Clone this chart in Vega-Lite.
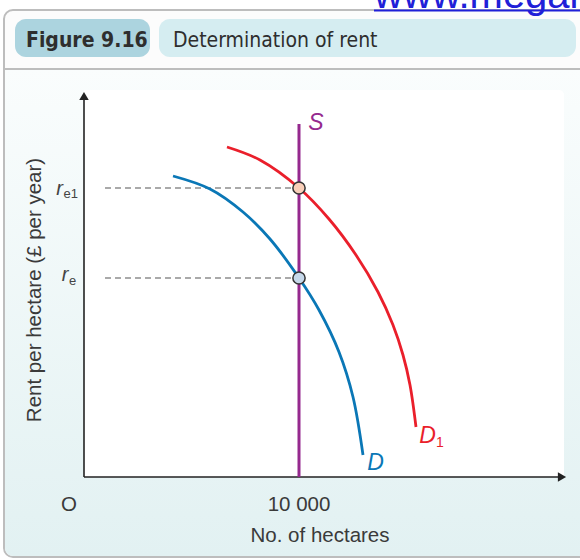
{
  "$schema": "https://vega.github.io/schema/vega-lite/v6.json",
  "autosize": "none",
  "padding": 0,
  "width": 580,
  "height": 560,
  "background": "#ffffff",
  "config": {"view": {"stroke": null}},
  "encoding": {
    "x": {"field": "x", "type": "quantitative", "scale": {"domain": [-3907, 23070], "nice": false, "zero": false}, "axis": null},
    "y": {"field": "y", "type": "quantitative", "scale": {"domain": [-41.5, 238.5], "nice": false, "zero": false}, "axis": null}
  },
  "layer": [
    {
      "data": {"values": [{"x": -3721, "x2": 23600, "y": 233.5, "y2": -40}]},
      "mark": {"type": "rect", "fill": "#fcfcfc", "stroke": "#bdbdbd", "strokeWidth": 2, "cornerRadius": 9},
      "encoding": {"x2": {"field": "x2"}, "y2": {"field": "y2"}}
    },
    {
      "data": {"values": [{"x": -3674, "x2": 23600, "y": 204.5, "y2": -39.5}]},
      "mark": {"type": "rect", "cornerRadiusBottomLeft": 8, "fill": {"gradient": "linear", "x1": 0, "y1": 0, "x2": 0, "y2": 1, "stops": [{"offset": 0, "color": "#fafdfd"}, {"offset": 1, "color": "#e2f1f2"}]}},
      "encoding": {"x2": {"field": "x2"}, "y2": {"field": "y2"}}
    },
    {
      "data": {"values": [{"x": -3721, "x2": 23600, "y": 204}]},
      "mark": {"type": "rule", "stroke": "#bdbdbd", "strokeWidth": 2},
      "encoding": {"x2": {"field": "x2"}}
    },
    {
      "data": {"values": [{"x": 0, "x2": 22326, "y": 193.5, "y2": 0}]},
      "mark": {"type": "rect", "fill": "#ffffff", "cornerRadiusTopRight": 5},
      "encoding": {"x2": {"field": "x2"}, "y2": {"field": "y2"}}
    },
    {
      "data": {"values": [{"x": -3209, "x2": 3070, "y": 229, "y2": 210}]},
      "mark": {"type": "rect", "fill": "#acd4df", "cornerRadius": 11},
      "encoding": {"x2": {"field": "x2"}, "y2": {"field": "y2"}}
    },
    {
      "data": {"values": [{"x": 3488, "x2": 22884, "y": 229, "y2": 210}]},
      "mark": {"type": "rect", "fill": "#d5edf1", "cornerRadius": 11},
      "encoding": {"x2": {"field": "x2"}, "y2": {"field": "y2"}}
    },
    {
      "data": {"values": [{"x": -2698, "y": 215, "t": "Figure 9.16"}]},
      "mark": {"type": "text", "align": "left", "baseline": "alphabetic", "font": "DejaVu Sans Condensed, Liberation Sans Narrow, sans-serif", "fontWeight": "bold", "fontSize": 21, "color": "#2e2e2e"},
      "encoding": {"text": {"field": "t"}}
    },
    {
      "data": {"values": [{"x": 4140, "y": 215, "t": "Determination of rent"}]},
      "mark": {"type": "text", "align": "left", "baseline": "alphabetic", "font": "DejaVu Sans Condensed, Liberation Sans Narrow, sans-serif", "fontSize": 21, "color": "#2e2e2e"},
      "encoding": {"text": {"field": "t"}}
    },
    {
      "data": {"values": [{"x": 13488, "y": 234.5, "t": "www.megalecture.com"}]},
      "mark": {"type": "text", "align": "left", "baseline": "alphabetic", "font": "Liberation Sans", "fontSize": 40, "color": "#2020d8"},
      "encoding": {"text": {"field": "t"}}
    },
    {
      "data": {"values": [{"x": 13488, "x2": 23600, "y": 233.2}]},
      "mark": {"type": "rule", "stroke": "#2020d8", "strokeWidth": 2},
      "encoding": {"x2": {"field": "x2"}}
    },
    {
      "data": {"values": [{"x": 0, "x2": 22140, "y": 0}]},
      "mark": {"type": "rule", "stroke": "#222222", "strokeWidth": 1.6},
      "encoding": {"x2": {"field": "x2"}}
    },
    {
      "data": {"values": [{"x": 0, "y": 0, "y2": 190}]},
      "mark": {"type": "rule", "stroke": "#222222", "strokeWidth": 1.6},
      "encoding": {"y2": {"field": "y2"}}
    },
    {
      "data": {"values": [{"x": 22233, "y": 0}]},
      "mark": {"type": "point", "shape": "triangle-right", "filled": true, "size": 90, "color": "#222222", "opacity": 1}
    },
    {
      "data": {"values": [{"x": 0, "y": 190.5}]},
      "mark": {"type": "point", "shape": "triangle-up", "filled": true, "size": 90, "color": "#222222", "opacity": 1}
    },
    {
      "data": {"values": [{"x": 977, "x2": 10000, "y": 144.5}, {"x": 977, "x2": 10000, "y": 99.5}]},
      "mark": {"type": "rule", "stroke": "#555555", "strokeWidth": 1.2, "strokeDash": [6, 4]},
      "encoding": {"x2": {"field": "x2"}}
    },
    {
      "data": {"values": [{"x": 10000, "y": 0, "y2": 176.5}]},
      "mark": {"type": "rule", "stroke": "#95298e", "strokeWidth": 3},
      "encoding": {"y2": {"field": "y2"}}
    },
    {
      "data": {"values": [
        {"series": "D", "i": 1, "x": 4140, "y": 150.5},
        {"series": "D", "i": 2, "x": 5860, "y": 144},
        {"series": "D", "i": 3, "x": 7395, "y": 132.5},
        {"series": "D", "i": 4, "x": 8651, "y": 119},
        {"series": "D", "i": 5, "x": 10000, "y": 99.5},
        {"series": "D", "i": 6, "x": 10930, "y": 83.5},
        {"series": "D", "i": 7, "x": 11860, "y": 62.5},
        {"series": "D", "i": 8, "x": 12512, "y": 40},
        {"series": "D", "i": 9, "x": 12977, "y": 11},
        {"series": "D1", "i": 1, "x": 6651, "y": 165},
        {"series": "D1", "i": 2, "x": 8186, "y": 158.5},
        {"series": "D1", "i": 3, "x": 10000, "y": 144.5},
        {"series": "D1", "i": 4, "x": 11395, "y": 129},
        {"series": "D1", "i": 5, "x": 12651, "y": 111},
        {"series": "D1", "i": 6, "x": 13674, "y": 92.5},
        {"series": "D1", "i": 7, "x": 14372, "y": 76},
        {"series": "D1", "i": 8, "x": 14837, "y": 61},
        {"series": "D1", "i": 9, "x": 15163, "y": 46},
        {"series": "D1", "i": 10, "x": 15442, "y": 25}
      ]},
      "mark": {"type": "line", "strokeWidth": 2.8, "interpolate": "catmull-rom"},
      "encoding": {
        "order": {"field": "i", "type": "quantitative"},
        "color": {"field": "series", "type": "nominal", "scale": {"domain": ["D", "D1", "S"], "range": ["#0a77b6", "#ea1f2b", "#95298e"]}, "legend": null}
      }
    },
    {
      "data": {"values": [{"x": 10000, "y": 144.5}]},
      "mark": {"type": "point", "filled": true, "size": 150, "fill": "#f9cfb9", "stroke": "#333333", "strokeWidth": 1.5, "opacity": 1}
    },
    {
      "data": {"values": [{"x": 10000, "y": 99.5}]},
      "mark": {"type": "point", "filled": true, "size": 150, "fill": "#c6d8ea", "stroke": "#333333", "strokeWidth": 1.5, "opacity": 1}
    },
    {
      "data": {"values": [
        {"series": "S", "x": 10791, "y": 173.5, "t": "S"},
        {"series": "D", "x": 13558, "y": 3.5, "t": "D"},
        {"series": "D1", "x": 15977, "y": 17, "t": "D"}
      ]},
      "mark": {"type": "text", "align": "center", "baseline": "alphabetic", "font": "Liberation Sans", "fontStyle": "italic", "fontSize": 23},
      "encoding": {
        "text": {"field": "t"},
        "color": {"field": "series", "type": "nominal", "legend": null}
      }
    },
    {
      "data": {"values": [{"x": 16372, "y": 15, "t": "1"}]},
      "mark": {"type": "text", "align": "left", "baseline": "alphabetic", "font": "Liberation Sans", "fontSize": 14, "color": "#ea1f2b"},
      "encoding": {"text": {"field": "t"}}
    },
    {
      "data": {"values": [{"x": -977, "y": 141, "t": "r"}, {"x": -721, "y": 98, "t": "r"}]},
      "mark": {"type": "text", "align": "right", "baseline": "alphabetic", "font": "Liberation Sans", "fontStyle": "italic", "fontSize": 20, "color": "#444444"},
      "encoding": {"text": {"field": "t"}}
    },
    {
      "data": {"values": [{"x": -953, "y": 139.5, "t": "e1"}, {"x": -698, "y": 96, "t": "e"}]},
      "mark": {"type": "text", "align": "left", "baseline": "alphabetic", "font": "Liberation Sans", "fontSize": 13, "color": "#444444"},
      "encoding": {"text": {"field": "t"}}
    },
    {
      "data": {"values": [
        {"x": -698, "y": -17, "t": "O"},
        {"x": 10000, "y": -17, "t": "10 000"},
        {"x": 10977, "y": -32.5, "t": "No. of hectares"}
      ]},
      "mark": {"type": "text", "align": "center", "baseline": "alphabetic", "font": "Liberation Sans", "fontSize": 20.5, "color": "#3a3a3a"},
      "encoding": {"text": {"field": "t"}}
    },
    {
      "data": {"values": [{"x": -2279, "y": 93.5, "t": "Rent per hectare (£ per year)"}]},
      "mark": {"type": "text", "align": "center", "baseline": "middle", "angle": 270, "font": "Liberation Sans", "fontSize": 20.5, "color": "#3a3a3a"},
      "encoding": {"text": {"field": "t"}}
    }
  ]
}
